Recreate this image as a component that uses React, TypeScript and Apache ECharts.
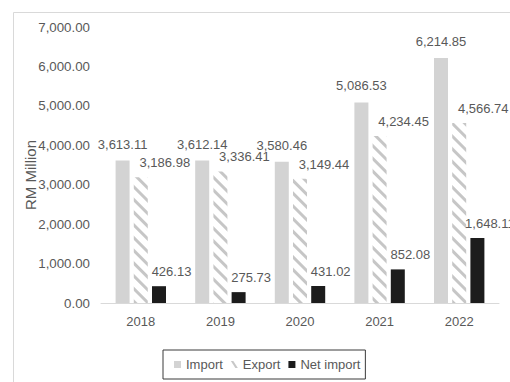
import React, { useEffect, useRef } from "react";
import * as echarts from "echarts";

const categories = ["2018", "2019", "2020", "2021", "2022"];
const importValues = [3613.11, 3612.14, 3580.46, 5086.53, 6214.85];
const exportValues = [3186.98, 3336.41, 3149.44, 4234.45, 4566.74];
const netImportValues = [426.13, 275.73, 431.02, 852.08, 1648.11];
const seriesNames = ["Import", "Export", "Net import"];
const axisName = "RM Million";

const FONT = '"Liberation Sans", Arial, sans-serif';
const TEXT = "#595959";

const fmt = (v: number) =>
  v.toLocaleString("en-US", { minimumFractionDigits: 2, maximumFractionDigits: 2 });

export default function App() {
  const ref = useRef<HTMLDivElement>(null);
  useEffect(() => {
    if (!ref.current) return;
    const chart = echarts.init(ref.current, undefined, { renderer: "svg" });
    const labelBase = {
      show: true,
      position: "top" as const,
      color: TEXT,
      fontFamily: FONT,
      fontSize: 13,
      formatter: (p: any) => fmt(p.value),
    };
    chart.setOption({
      animation: false,
      backgroundColor: "#ffffff",
      textStyle: { fontFamily: FONT },
      grid: { left: 101, right: 11, top: 27, bottom: 79 },
      graphic: [
        {
          type: "rect",
          shape: { x: 13.5, y: 12.5, width: 700, height: 700 },
          style: { fill: "none", stroke: "#d9d9d9", lineWidth: 1 },
          silent: true,
          z: -10,
        },
        {
          type: "text",
          x: 30,
          y: 175,
          rotation: Math.PI / 2,
          style: {
            text: axisName,
            fill: TEXT,
            font: `15px "Liberation Sans", Arial, sans-serif`,
            align: "center",
            verticalAlign: "middle",
          },
        },
      ],
      legend: {
        left: 163,
        top: 350,
        padding: [8, 5, 8, 11],
        itemWidth: 7,
        itemHeight: 7,
        itemGap: 8,
        borderColor: "#3a3a3a",
        borderWidth: 1,
        textStyle: { color: TEXT, fontFamily: FONT, fontSize: 13 },
        data: [
          { name: seriesNames[0], icon: "rect" },
          {
            name: seriesNames[1],
            icon: "path://M0,0 L2.5,0 L7,7 L4.5,7 Z",
            itemStyle: { color: "#c8c8c8", decal: "none" },
          },
          { name: seriesNames[2], icon: "rect" },
        ],
      },
      xAxis: {
        type: "category",
        data: categories,
        axisLine: { show: true, lineStyle: { color: "#d9d9d9", width: 1 } },
        axisTick: { show: false },
        axisLabel: { color: TEXT, fontFamily: FONT, fontSize: 13, margin: 12 },
      },
      yAxis: {
        type: "value",
        min: 0,
        max: 7000,
        interval: 1000,
        splitLine: { show: false },
        axisLine: { show: false },
        axisTick: { show: false },
        axisLabel: {
          color: TEXT,
          fontFamily: FONT,
          fontSize: 13.3,
          margin: 11,
          formatter: (v: number) => fmt(v),
        },
      },
      series: [
        {
          name: seriesNames[0],
          type: "bar",
          data: importValues,
          barWidth: 14,
          barGap: "30%",
          itemStyle: { color: "#d3d3d3" },
          label: { ...labelBase, distance: 10 },
        },
        {
          name: seriesNames[1],
          type: "bar",
          data: exportValues,
          barWidth: 14,
          barGap: "30%",
          itemStyle: {
            color: "#ffffff",
            decal: {
              symbol: "rect",
              symbolSize: 1,
              color: "#c6c6c6",
              dashArrayX: [1, 0],
              dashArrayY: [3, 6],
              rotation: Math.PI / 4,
            },
          },
          label: { ...labelBase, distance: 8, offset: [24, 0] },
        },
        {
          name: seriesNames[2],
          type: "bar",
          data: netImportValues,
          barWidth: 14,
          barGap: "30%",
          itemStyle: { color: "#1c1c1c" },
          label: { ...labelBase, distance: 8, offset: [12.5, 0] },
        },
      ],
    });
    return () => chart.dispose();
  }, []);
  return (
    <div
      ref={ref}
      style={{ position: "fixed", left: 0, top: 0, width: 510, height: 382 }}
    />
  );
}
